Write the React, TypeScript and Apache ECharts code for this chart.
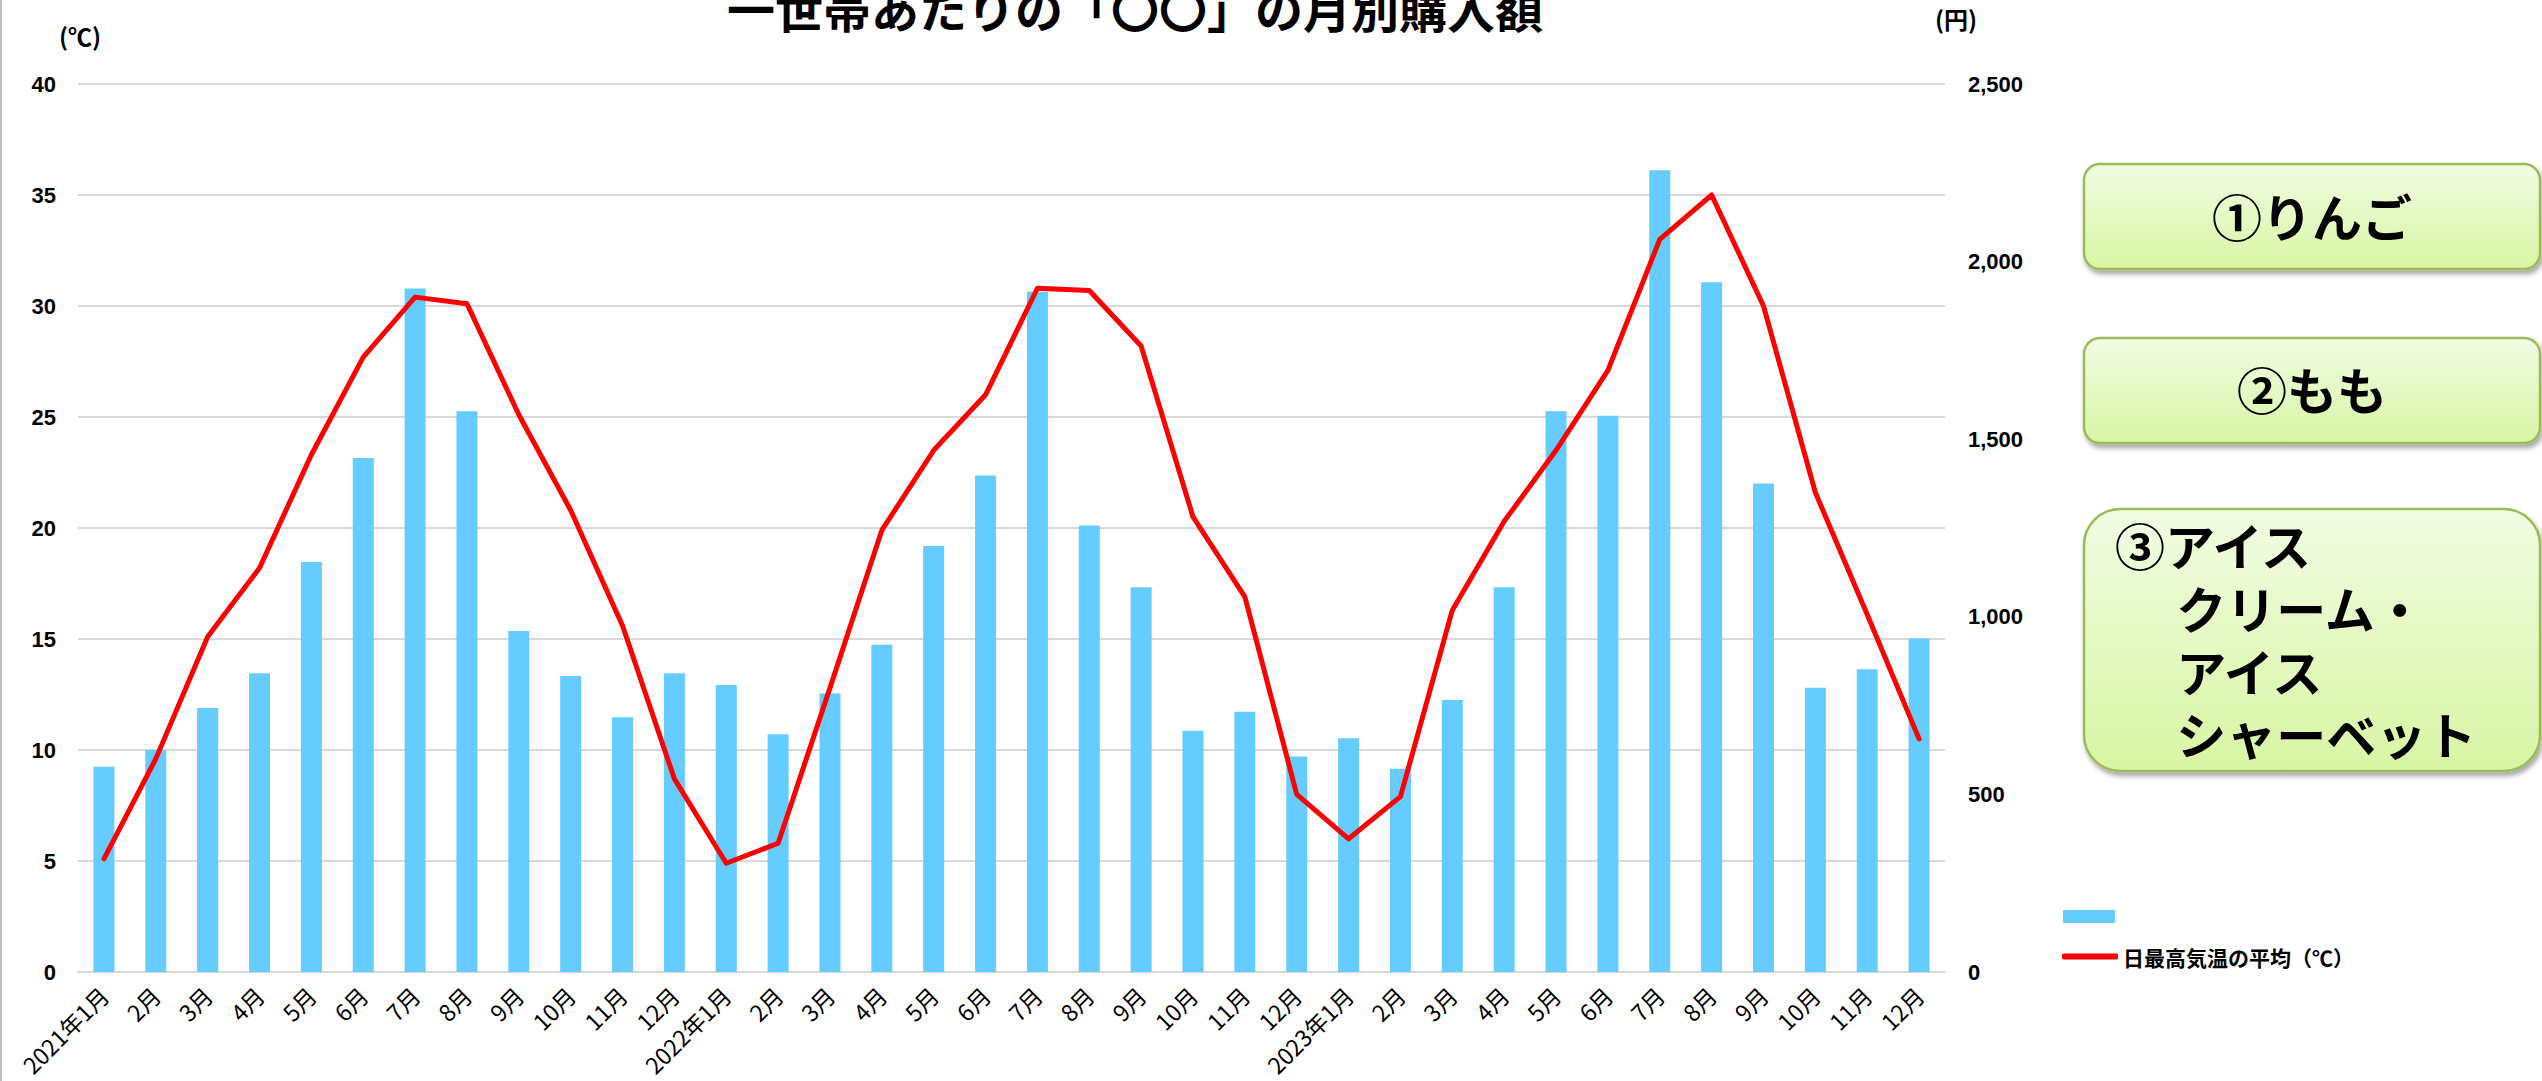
import React, { useEffect, useRef } from "react";
import * as echarts from "echarts";

const categories = [
  "2021年1月", "2月", "3月", "4月", "5月", "6月", "7月", "8月", "9月", "10月", "11月", "12月",
  "2022年1月", "2月", "3月", "4月", "5月", "6月", "7月", "8月", "9月", "10月", "11月", "12月",
  "2023年1月", "2月", "3月", "4月", "5月", "6月", "7月", "8月", "9月", "10月", "11月", "12月",
];

// 購入額（円） right axis
const purchaseYen = [
  578, 625, 743, 841, 1154, 1447, 1924, 1579, 960, 833, 717, 841,
  808, 669, 784, 921, 1199, 1398, 1915, 1257, 1083, 679, 733, 607,
  658, 572, 766, 1083, 1579, 1566, 2257, 1942, 1375, 800, 852, 939,
];

// 日最高気温の平均（℃） left axis
const tempC = [
  5.1, 9.6, 15.1, 18.2, 23.3, 27.7, 30.4, 30.1, 25.1, 20.8, 15.6, 8.7,
  4.9, 5.8, 12.8, 19.9, 23.5, 26.0, 30.8, 30.7, 28.2, 20.5, 16.9, 8.0,
  6.0, 7.9, 16.3, 20.3, 23.5, 27.1, 33.0, 35.0, 30.0, 21.6, 16.1, 10.5,
];

const titleText = "一世帯あたりの「〇〇」の月別購入額";
const leftAxisName = "(℃)";
const rightAxisName = "(円)";
const barName = "購入額";
const lineName = "日最高気温の平均（℃）";
const box1Text = "①りんご";
const box2Text = "②もも";
const box3Text = "③アイス\n　 クリーム・\n　 アイス\n　 シャーベット";

const JP = '"Noto Sans CJK JP", "Noto Sans", sans-serif';
const NUM = '"Liberation Sans", Arial, sans-serif';

function txt(text: string, x: number, y: number, size: number, align: string, weight: string = "bold", family: string = JP, lineHeight?: number, vAlign: string = "middle") {
  const style: any = {
    text,
    fill: "#000",
    fontSize: size,
    fontWeight: weight,
    fontFamily: family,
    textAlign: align,
    textVerticalAlign: vAlign,
    align,
    verticalAlign: vAlign,
  };
  if (lineHeight) style.lineHeight = lineHeight;
  return { type: "text", x, y, silent: true, style };
}

function box(x: number, y: number, w: number, h: number, r: number) {
  return {
    type: "rect",
    silent: true,
    shape: { x, y, width: w, height: h, r },
    style: {
      fill: new echarts.graphic.LinearGradient(0, 0, 0, 1, [
        { offset: 0, color: "#F1FCE3" },
        { offset: 1, color: "#D8F6A3" },
      ]),
      stroke: "#9BBB59",
      lineWidth: 2.5,
      shadowBlur: 5,
      shadowOffsetX: 2,
      shadowOffsetY: 4,
      shadowColor: "rgba(0,0,0,0.35)",
    },
  };
}

export default function App() {
  const ref = useRef<HTMLDivElement>(null);
  useEffect(() => {
    const chart = echarts.init(ref.current!, null, { renderer: "svg" });
    const graphic: any[] = [
      { type: "rect", silent: true, shape: { x: 0, y: 0, width: 2, height: 1081 }, style: { fill: "#C0C0C0" } },
      txt(titleText, 1135, 7, 48, "center", "bold"),
      txt(leftAxisName, 80, 35, 24, "center", "bold"),
      txt(rightAxisName, 1956, 18, 24, "center", "bold"),
      box(2084, 164, 456, 105, 16),
      box(2084, 338, 456, 105, 16),
      box(2084, 509, 456, 262, 36),
      txt(box1Text, 2312, 215, 50, "center"),
      txt(box2Text, 2312, 388, 50, "center"),
      txt(box3Text, 2115, 512, 50, "left", "bold", JP, 63, "top"),
    ];
    const legendText = { fontSize: 21, fontWeight: "bold", color: "#000", fontFamily: JP };
    const option: any = {
      animation: false,
      backgroundColor: "#fff",
      grid: { left: 78, right: 597, top: 84, bottom: 109, containLabel: false },
      legend: [
        {
          orient: "vertical",
          left: 2058,
          top: 905,
          itemWidth: 52,
          itemHeight: 13,
          textStyle: legendText,
          formatter: () => "",
          data: [{ name: barName, icon: "rect" }],
        },
        {
          orient: "vertical",
          left: 2057,
          top: 941,
          itemWidth: 56,
          itemHeight: 6,
          textStyle: legendText,
          data: [{ name: lineName, icon: "roundRect" }],
        },
      ],
      xAxis: {
        type: "category",
        data: categories,
        boundaryGap: true,
        axisTick: { show: false },
        axisLine: { lineStyle: { color: "#D9D9D9", width: 2 } },
        axisLabel: {
          interval: 0,
          rotate: 45,
          margin: 19,
          fontSize: 23,
          color: "#000",
          fontFamily: JP,
        },
      },
      yAxis: [
        {
          type: "value",
          min: 0,
          max: 40,
          interval: 5,
          axisLine: { show: false },
          axisTick: { show: false },
          splitLine: { lineStyle: { color: "#D9D9D9", width: 2 } },
          axisLabel: { margin: 22, fontSize: 22, fontWeight: "bold", color: "#000", fontFamily: NUM },
        },
        {
          type: "value",
          min: 0,
          max: 2500,
          interval: 500,
          position: "right",
          axisLine: { show: false },
          axisTick: { show: false },
          splitLine: { show: false },
          axisLabel: {
            margin: 23,
            fontSize: 22,
            fontWeight: "bold",
            color: "#000",
            fontFamily: NUM,
            formatter: (v: number) => v.toLocaleString("en-US"),
          },
        },
      ],
      series: [
        {
          name: barName,
          type: "bar",
          yAxisIndex: 1,
          data: purchaseYen,
          barWidth: 21,
          itemStyle: { color: "#66CCFF" },
        },
        {
          name: lineName,
          type: "line",
          yAxisIndex: 0,
          data: tempC,
          symbol: "none",
          smooth: false,
          lineStyle: { color: "#FF0000", width: 5, cap: "round", join: "round" },
          itemStyle: { color: "#FF0000" },
        },
      ],
      graphic,
    };
    chart.setOption(option);
    return () => chart.dispose();
  }, []);
  return (
    <div
      ref={ref}
      style={{ position: "fixed", left: 0, top: 0, width: 2542, height: 1081, background: "#fff" }}
    />
  );
}
